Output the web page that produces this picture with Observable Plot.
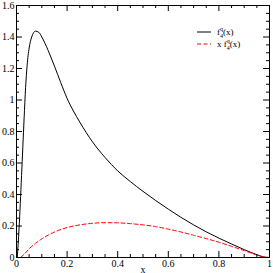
<!DOCTYPE html>
<html><head><meta charset="utf-8">
<script src="https://cdn.jsdelivr.net/npm/d3@7"></script>
<script src="https://cdn.jsdelivr.net/npm/@observablehq/plot@0.6"></script>
<style>body{margin:0;background:#fff}</style>
</head><body><div id="chart"></div>
<script>
const blackX = [0.003, 0.01, 0.02, 0.03, 0.036, 0.042, 0.05, 0.06, 0.075, 0.088, 0.1, 0.125, 0.15, 0.175, 0.2, 0.225, 0.25, 0.3, 0.35, 0.4, 0.45, 0.5, 0.55, 0.6, 0.65, 0.7, 0.75, 0.8, 0.85, 0.9, 0.95, 0.975, 1.0];
const blackY = [0, 0.18, 0.52, 0.88, 1.08, 1.22, 1.33, 1.40, 1.437, 1.43, 1.40, 1.315, 1.215, 1.11, 1.01, 0.93, 0.86, 0.735, 0.635, 0.55, 0.482, 0.42, 0.362, 0.307, 0.255, 0.207, 0.163, 0.123, 0.086, 0.05, 0.018, 0.004, 0];
const redX = [0.016, 0.03, 0.05, 0.075, 0.1, 0.125, 0.15, 0.2, 0.25, 0.3, 0.35, 0.4, 0.45, 0.5, 0.55, 0.6, 0.65, 0.7, 0.75, 0.8, 0.85, 0.9, 0.95, 0.975, 1.0];
const redY = [0, 0.02, 0.055, 0.09, 0.118, 0.142, 0.162, 0.19, 0.207, 0.217, 0.221, 0.22, 0.215, 0.207, 0.196, 0.18, 0.162, 0.141, 0.12, 0.097, 0.071, 0.044, 0.016, 0.004, 0];
const xMajor = [0, 0.2, 0.4, 0.6, 0.8, 1];
const xMinor = [0.05, 0.1, 0.15, 0.25, 0.3, 0.35, 0.45, 0.5, 0.55, 0.65, 0.7, 0.75, 0.85, 0.9, 0.95];
const yMajor = [0, 0.2, 0.4, 0.6, 0.8, 1, 1.2, 1.4, 1.6];
const yMinor = [0.05, 0.1, 0.15, 0.25, 0.3, 0.35, 0.45, 0.5, 0.55, 0.65, 0.7, 0.75, 0.85, 0.9, 0.95, 1.05, 1.1, 1.15, 1.25, 1.3, 1.35, 1.45, 1.5, 1.55];
const xLabel = "x";
const legendItems = [
  {prefix: "", sup: "q", sub: "4", suffix: "(x)", color: "#000000", dash: null},
  {prefix: "x ", sup: "q", sub: "4", suffix: "(x)", color: "#ff0000", dash: "4,2.5"}
];

const W = 273, H = 273, mL = 16, mR = 4, mT = 5, mB = 16;
const fw = W - mL - mR, fh = H - mT - mB;
const major = 6, minor = 3;

const blackData = blackX.map((x, i) => ({x, y: blackY[i]}));
const redData = redX.map((x, i) => ({x, y: redY[i]}));

function legend(index, scales, values, dims) {
  const g = d3.create("svg:g").attr("font-family", "Liberation Serif").attr("font-size", 9)
    .attr("fill", "#000").attr("text-anchor", "start");
  legendItems.forEach((it, i) => {
    const y = 32 + i * 12;
    const ln = g.append("line").attr("x1", 197).attr("x2", 211).attr("y1", y).attr("y2", y)
      .attr("stroke", it.color).attr("stroke-width", 1);
    if (it.dash) ln.attr("stroke-dasharray", it.dash);
    const t = g.append("text").attr("x", 217).attr("y", y + 3);
    t.append("tspan").text(it.prefix + "f");
    t.append("tspan").attr("font-size", 6).attr("dy", -4).text(it.sup);
    t.append("tspan").attr("font-size", 6).attr("dx", -3).attr("dy", 7).text(it.sub);
    t.append("tspan").attr("dy", -3).text(it.suffix);
  });
  return g.node();
}

const chart = Plot.plot({
  width: W, height: H,
  marginLeft: mL, marginRight: mR, marginTop: mT, marginBottom: mB,
  style: {fontFamily: "Liberation Serif", fontSize: "10px", background: "#fff", color: "#000"},
  x: {domain: [0, 1]},
  y: {domain: [0, 1.6]},
  marks: [
    Plot.line(blackData, {x: "x", y: "y", stroke: "#000", strokeWidth: 1, curve: "monotone-x"}),
    Plot.line(redData, {x: "x", y: "y", stroke: "#ff0000", strokeWidth: 1, strokeDasharray: "4,2.5", curve: "monotone-x"}),
    Plot.frame({stroke: "#000", strokeWidth: 1}),
    Plot.tickX(xMajor, {x: d => d, insetTop: fh - major, stroke: "#000"}),
    Plot.tickX(xMajor, {x: d => d, insetBottom: fh - major, stroke: "#000"}),
    Plot.tickX(xMinor, {x: d => d, insetTop: fh - minor, stroke: "#000"}),
    Plot.tickX(xMinor, {x: d => d, insetBottom: fh - minor, stroke: "#000"}),
    Plot.tickY(yMajor, {y: d => d, insetRight: fw - major, stroke: "#000"}),
    Plot.tickY(yMajor, {y: d => d, insetLeft: fw - major, stroke: "#000"}),
    Plot.tickY(yMinor, {y: d => d, insetRight: fw - minor, stroke: "#000"}),
    Plot.tickY(yMinor, {y: d => d, insetLeft: fw - minor, stroke: "#000"}),
    Plot.axisX(xMajor, {tickSize: 0, tickPadding: 2, label: xLabel, labelAnchor: "center", labelArrow: "none", labelOffset: 15, tickFormat: d => String(d)}),
    Plot.axisY(yMajor, {tickSize: 0, tickPadding: 2, label: null, tickFormat: d => String(d)}),
    legend
  ]
});
document.getElementById("chart").append(chart);
</script>
</body></html>
